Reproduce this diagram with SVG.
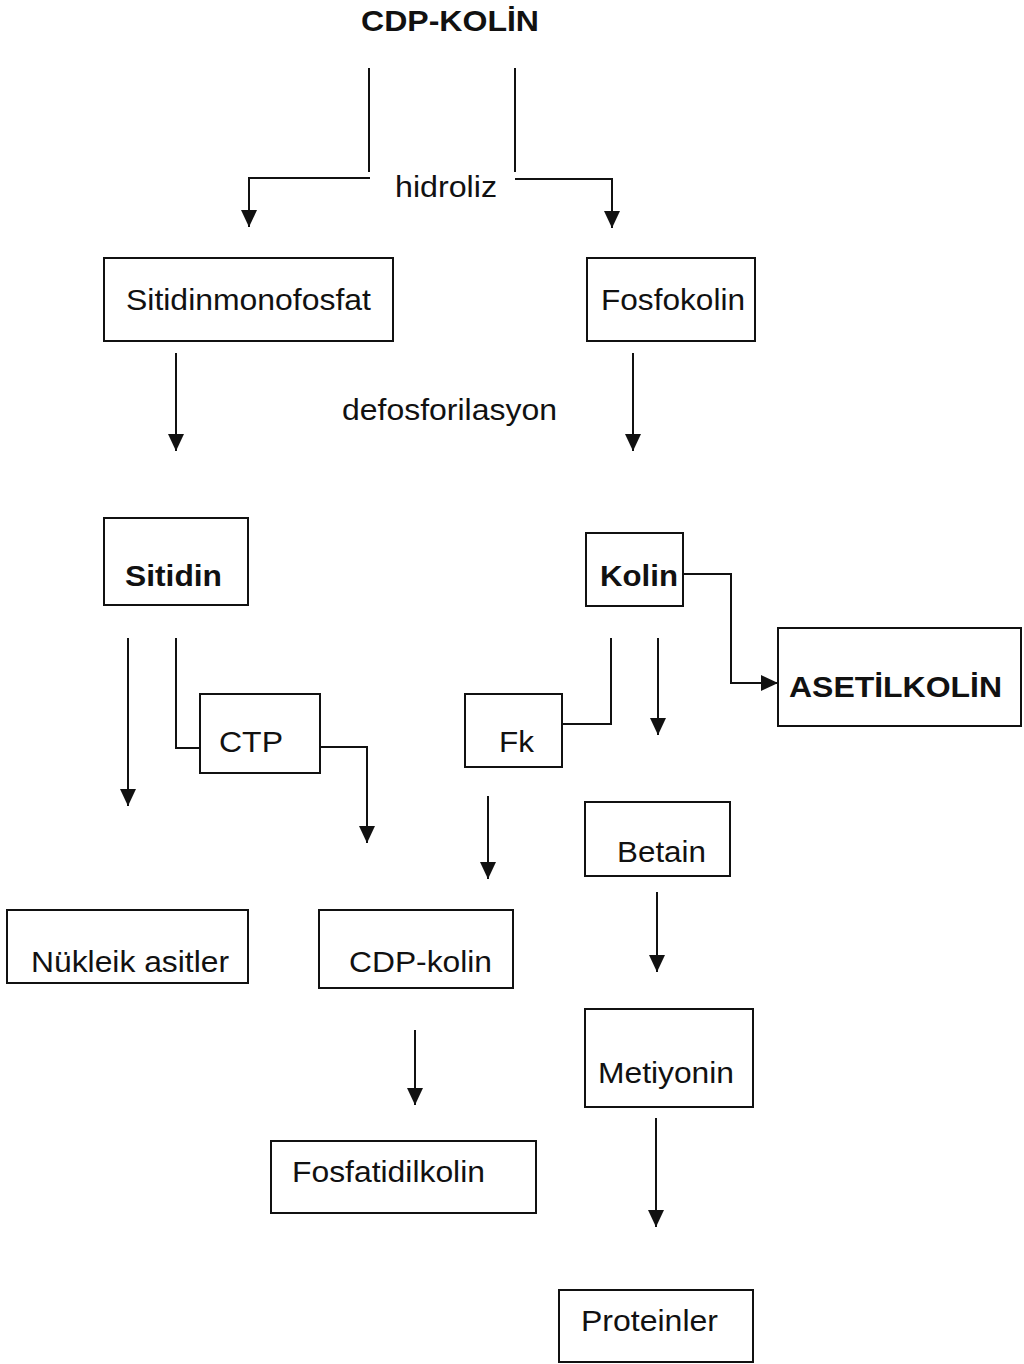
<svg xmlns="http://www.w3.org/2000/svg" width="1024" height="1364" viewBox="0 0 1024 1364">
<style>
.box{fill:#fff;stroke:#111;stroke-width:2}
.t{font-family:"Liberation Sans",Arial,sans-serif;font-size:30px;fill:#111}
.b{font-weight:bold}
.c{fill:none;stroke:#111;stroke-width:2}
</style>
<defs>
<marker id="ah" markerUnits="userSpaceOnUse" markerWidth="17" markerHeight="16" viewBox="0 0 17 16" refX="17" refY="8" orient="auto">
<path d="M0,0 L17,8 L0,16 Z" fill="#111"/>
</marker>
</defs>
<rect width="1024" height="1364" fill="#fff"/>
<g id="title"><text class="t b" x="361" y="31" textLength="178" lengthAdjust="spacingAndGlyphs">CDP-KOLİN</text></g>
<g id="label-hidroliz"><text class="t" x="395" y="197" textLength="102" lengthAdjust="spacingAndGlyphs">hidroliz</text></g>
<g id="label-defosforilasyon"><text class="t" x="342" y="420" textLength="215" lengthAdjust="spacingAndGlyphs">defosforilasyon</text></g>
<g id="n-sitidinmonofosfat"><rect class="box" x="104" y="258" width="289" height="83"/><text class="t" x="126" y="310" textLength="245" lengthAdjust="spacingAndGlyphs">Sitidinmonofosfat</text></g>
<g id="n-fosfokolin"><rect class="box" x="587" y="258" width="168" height="83"/><text class="t" x="601" y="310" textLength="144" lengthAdjust="spacingAndGlyphs">Fosfokolin</text></g>
<g id="n-sitidin"><rect class="box" x="104" y="518" width="144" height="87"/><text class="t b" x="125" y="586" textLength="97" lengthAdjust="spacingAndGlyphs">Sitidin</text></g>
<g id="n-kolin"><rect class="box" x="586" y="533" width="97" height="73"/><text class="t b" x="600" y="586" textLength="78" lengthAdjust="spacingAndGlyphs">Kolin</text></g>
<g id="n-asetilkolin"><rect class="box" x="778" y="628" width="243" height="98"/><text class="t b" x="789" y="697" textLength="213" lengthAdjust="spacingAndGlyphs">ASETİLKOLİN</text></g>
<g id="n-ctp"><rect class="box" x="200" y="694" width="120" height="79"/><text class="t" x="219" y="752" textLength="64" lengthAdjust="spacingAndGlyphs">CTP</text></g>
<g id="n-fk"><rect class="box" x="465" y="694" width="97" height="73"/><text class="t" x="499" y="752" textLength="35" lengthAdjust="spacingAndGlyphs">Fk</text></g>
<g id="n-betain"><rect class="box" x="585" y="802" width="145" height="74"/><text class="t" x="617" y="862" textLength="89" lengthAdjust="spacingAndGlyphs">Betain</text></g>
<g id="n-nukleik"><rect class="box" x="7" y="910" width="241" height="73"/><text class="t" x="31" y="972" textLength="198" lengthAdjust="spacingAndGlyphs">Nükleik asitler</text></g>
<g id="n-cdpkolin"><rect class="box" x="319" y="910" width="194" height="78"/><text class="t" x="349" y="972" textLength="143" lengthAdjust="spacingAndGlyphs">CDP-kolin</text></g>
<g id="n-metiyonin"><rect class="box" x="585" y="1009" width="168" height="98"/><text class="t" x="598" y="1083" textLength="136" lengthAdjust="spacingAndGlyphs">Metiyonin</text></g>
<g id="n-fosfatidilkolin"><rect class="box" x="271" y="1141" width="265" height="72"/><text class="t" x="292" y="1182" textLength="193" lengthAdjust="spacingAndGlyphs">Fosfatidilkolin</text></g>
<g id="n-proteinler"><rect class="box" x="559" y="1290" width="194" height="72"/><text class="t" x="581" y="1331" textLength="137" lengthAdjust="spacingAndGlyphs">Proteinler</text></g>
<g id="connectors">
<path class="c" d="M369,68 V172"/>
<path class="c" d="M370,178 H249 V227" marker-end="url(#ah)"/>
<path class="c" d="M515,68 V172"/>
<path class="c" d="M515,179 H612 V228" marker-end="url(#ah)"/>
<path class="c" d="M176,353 V451" marker-end="url(#ah)"/>
<path class="c" d="M633,353 V451" marker-end="url(#ah)"/>
<path class="c" d="M683,574 H731 V683 H778" marker-end="url(#ah)"/>
<path class="c" d="M611,638 V724 H562"/>
<path class="c" d="M658,638 V735" marker-end="url(#ah)"/>
<path class="c" d="M128,638 V806" marker-end="url(#ah)"/>
<path class="c" d="M176,638 V748 H200"/>
<path class="c" d="M320,747 H367 V843" marker-end="url(#ah)"/>
<path class="c" d="M488,796 V879" marker-end="url(#ah)"/>
<path class="c" d="M657,892 V972" marker-end="url(#ah)"/>
<path class="c" d="M415,1030 V1105" marker-end="url(#ah)"/>
<path class="c" d="M656,1118 V1227" marker-end="url(#ah)"/>
</g>
</svg>
